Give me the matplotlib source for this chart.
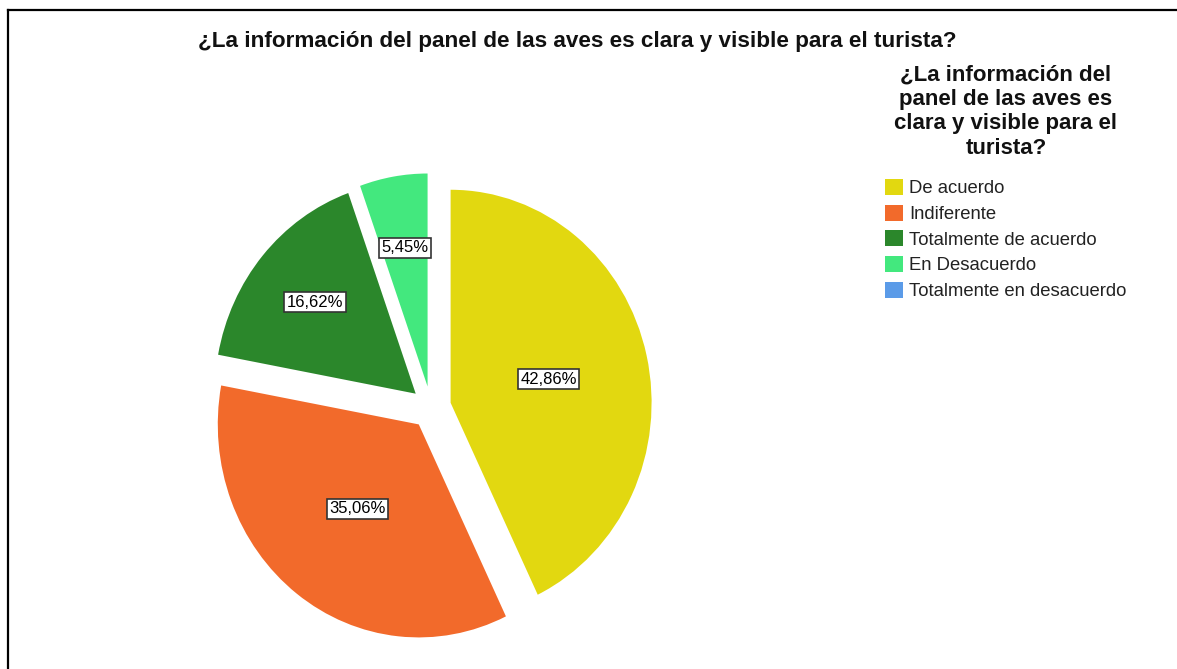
import numpy as np
import matplotlib
matplotlib.use("Agg")
import matplotlib.pyplot as plt
from matplotlib.patches import Patch
from matplotlib.lines import Line2D

plt.rcParams['font.family'] = ['Liberation Sans', 'DejaVu Sans']

title = "¿La información del panel de las aves es clara y visible para el turista?"
legend_title = "¿La información del\npanel de las aves es\nclara y visible para el\nturista?"
categories = ["De acuerdo", "Indiferente", "Totalmente de acuerdo",
              "En Desacuerdo", "Totalmente en desacuerdo"]
percents = [42.86, 35.06, 16.62, 5.45, 0.0]
colors = ["#E2D810", "#F26A2B", "#2B872B", "#43E87E", "#5B9BE8"]

# label distance from exploded wedge centre, per slice (SPSS places them unevenly)
label_dist = [0.5, 0.5, 0.66, 0.66]

W, H = 1177, 669
fig = plt.figure(figsize=(W / 100, H / 100), dpi=100)

# pie is slightly taller than wide in the original -> auto aspect, sized axes
rx, ry = 201, 213
cx, cy = 431, H - 407.5
lim = 1.3
ax = fig.add_axes([(cx - lim * rx) / W, (cy - lim * ry) / H,
                   2 * lim * rx / W, 2 * lim * ry / H])

vals = [p for p in percents if p > 0]
cols = colors[:len(vals)]
wedges, _ = ax.pie(vals, colors=cols, startangle=90, counterclock=False,
                   explode=[0.1] * len(vals), radius=1, center=(0, 0),
                   wedgeprops=dict(linewidth=0))
ax.set_aspect('auto')
ax.set_xlim(-lim, lim)
ax.set_ylim(-lim, lim)
ax.axis('off')

for w, v, d in zip(wedges, vals, label_dist):
    ang = np.deg2rad((w.theta1 + w.theta2) / 2)
    x0, y0 = w.center
    ax.text(x0 + d * np.cos(ang), y0 + d * np.sin(ang),
            f"{v:.2f}%".replace('.', ','), ha='center', va='center',
            fontsize=12, color='black',
            bbox=dict(boxstyle='square,pad=0.15', facecolor='white',
                      edgecolor='#333333', linewidth=1.2))

fig.text(577 / W, 1 - 41 / H, title, ha='center', va='center',
         fontsize=16.2, fontweight='bold', color='#111111')

# legend title drawn separately so the gap to the entries matches
fig.text(1006 / W, 1 - 65 / H, legend_title, ha='center', va='top',
         fontsize=16, fontweight='bold', color='#111111', linespacing=1.2)

handles = [Patch(facecolor=c, edgecolor='none') for c in colors]
leg = fig.legend(handles, categories, loc='upper left',
                 bbox_to_anchor=(885 / W, 1 - 179 / H), frameon=False,
                 borderpad=0, borderaxespad=0, handlelength=0.95,
                 handleheight=0.95, handletextpad=0.35, labelspacing=0.4,
                 fontsize=13.3)
for t in leg.get_texts():
    t.set_color('#222222')

# outer frame (top and left edges visible)
fig.add_artist(Line2D([8 / W, 8 / W], [0, 1 - 10 / H], transform=fig.transFigure,
                      color='black', linewidth=1.6))
fig.add_artist(Line2D([8 / W, 1], [1 - 10 / H, 1 - 10 / H], transform=fig.transFigure,
                      color='black', linewidth=1.6))

fig.savefig("out.png", dpi=100)
